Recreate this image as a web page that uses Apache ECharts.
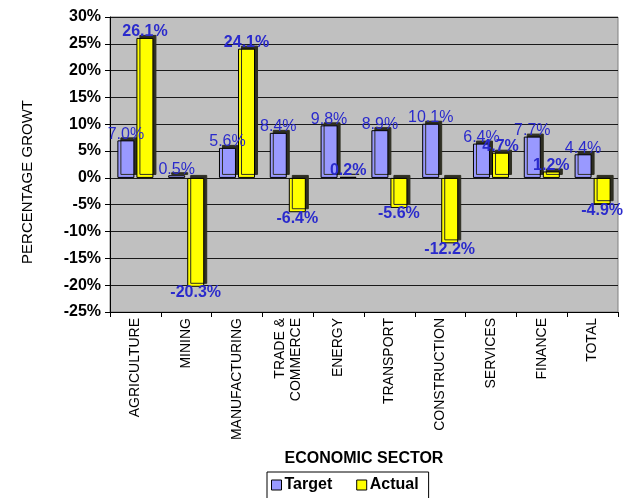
<!DOCTYPE html>
<html><head><meta charset="utf-8">
<script src="https://cdn.jsdelivr.net/npm/echarts@6/dist/echarts.min.js"></script>
<style>html,body{margin:0;padding:0;background:#fff}#c{width:623px;height:498px}</style>
</head><body><div id="c"></div>
<script>
const categories = ['AGRICULTURE','MINING','MANUFACTURING','TRADE &\nCOMMERCE','ENERGY','TRANSPORT','CONSTRUCTION','SERVICES','FINANCE','TOTAL'];
const targetValues = [7.0, 0.5, 5.6, 8.4, 9.8, 8.9, 10.1, 6.4, 7.7, 4.4];
const actualValues = [26.1, -20.3, 24.1, -6.4, 0.2, -5.6, -12.2, 4.7, 1.2, -4.9];
const yMin = -25, yMax = 30, yStep = 5;
const yTitle = 'PERCENTAGE GROWT';
const xTitle = 'ECONOMIC SECTOR';

const font = 'Liberation Sans, Arial, sans-serif';
const labelBlue = '#2a2acc';
function withLabels(vals) {
  return vals.map(v => ({
    value: v,
    label: {position: v < 0 ? 'bottom' : 'top', distance: -2}
  }));
}
const barStyle = {shadowColor: '#2e2e22', shadowOffsetX: 3, shadowOffsetY: -3, shadowBlur: 0, borderColor: '#000', borderWidth: 1};

const chart = echarts.init(document.getElementById('c'), null, {renderer: 'canvas'});
chart.setOption({
  animation: false,
  textStyle: {fontFamily: font},
  grid: {left: 110, right: 5, top: 17, bottom: 186, show: true, backgroundColor: '#c0c0c0', borderColor: '#808080', borderWidth: 1},
  graphic: [{
    type: 'text', x: 28, y: 182, rotation: Math.PI / 2,
    style: {text: yTitle, fill: '#000', font: '15px ' + font, textAlign: 'center', textVerticalAlign: 'middle'}
  }],
  legend: {
    data: ['Target', 'Actual'],
    left: 267, top: 472,
    itemWidth: 10, itemHeight: 10, itemGap: 24,
    borderColor: '#000', borderWidth: 1, padding: [5, 10, 6, 4],
    icon: 'rect',
    itemStyle: {borderColor: '#000', borderWidth: 1},
    textStyle: {fontFamily: font, fontWeight: 'bold', fontSize: 16, color: '#000', padding: [0, 0, 0, -2]}
  },
  xAxis: {
    type: 'category',
    data: categories,
    name: xTitle,
    nameLocation: 'middle',
    nameGap: 139,
    nameTextStyle: {fontFamily: font, fontWeight: 'bold', fontSize: 16, color: '#000'},
    axisLine: {onZero: false, lineStyle: {color: '#000'}},
    axisTick: {show: true, length: 5, lineStyle: {color: '#000'}},
    axisLabel: {rotate: 90, interval: 0, fontSize: 14, color: '#000', fontFamily: font, margin: 6, lineHeight: 16}
  },
  yAxis: {
    type: 'value',
    min: yMin, max: yMax, interval: yStep,
    axisLine: {show: true, lineStyle: {color: '#000'}},
    axisTick: {show: true, length: 5, lineStyle: {color: '#000'}},
    axisLabel: {formatter: v => v + '%', fontWeight: 'bold', fontSize: 16, color: '#000', fontFamily: font, margin: 9},
    splitLine: {show: true, lineStyle: {color: '#1a1a1a', width: 1}}
  },
  series: [
    {
      name: 'Target', type: 'bar', barWidth: 17, barGap: '12%',
      data: withLabels(targetValues),
      itemStyle: Object.assign({color: '#9999ff'}, barStyle),
      label: {show: true, formatter: p => p.value.toFixed(1) + '%', color: labelBlue, fontSize: 16, fontFamily: font}
    },
    {
      name: 'Actual', type: 'bar', barWidth: 17,
      data: withLabels(actualValues),
      itemStyle: Object.assign({color: '#ffff00'}, barStyle),
      label: {show: true, formatter: p => p.value.toFixed(1) + '%', color: labelBlue, fontWeight: 'bold', fontSize: 16, fontFamily: font}
    }
  ]
});
</script></body></html>
